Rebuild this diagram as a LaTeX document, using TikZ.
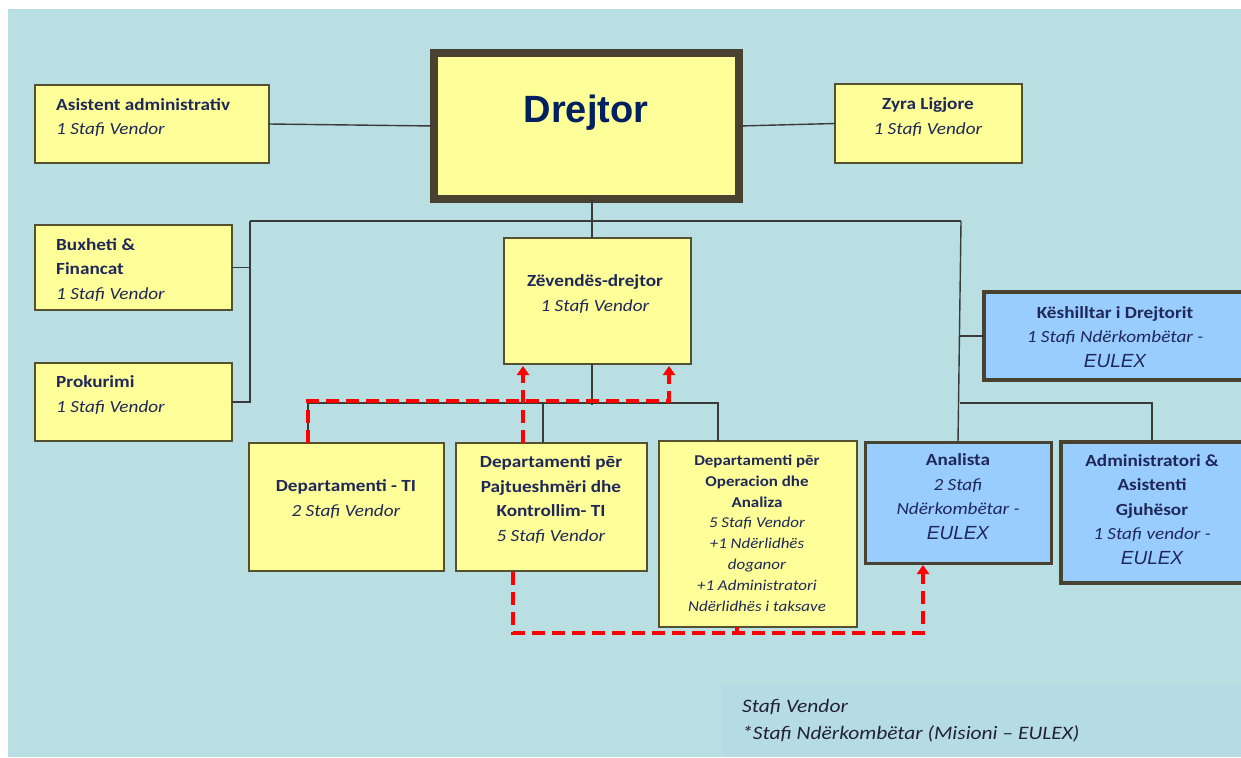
\documentclass[tikz,border=0pt]{standalone}
\usepackage{fontspec}
\setmainfont{Carlito}[FakeStretch=1.13]
\newfontfamily\arialf{Liberation Sans}
\usetikzlibrary{arrows.meta}
\definecolor{bgc}{HTML}{BADFE2}
\definecolor{legc}{HTML}{B5DBE5}
\definecolor{yfill}{HTML}{FFFF99}
\definecolor{bfill}{HTML}{99CCFF}
\definecolor{ybord}{HTML}{55502F}
\definecolor{tbord}{HTML}{4A4230}
\definecolor{navyc}{HTML}{1F2858}
\definecolor{drejc}{HTML}{002060}
\definecolor{connc}{HTML}{3A3A3A}
\definecolor{legt}{HTML}{222233}
\newcommand{\eulx}{{\arialf\itshape\fontsize{19}{24}\selectfont EULEX}}
\tikzset{
  ybox/.style={draw=ybord, line width=2pt, fill=yfill, inner sep=0pt, outer sep=0pt, anchor=north west},
  bbox/.style={draw=tbord, line width=4pt, fill=bfill, inner sep=0pt, outer sep=0pt, anchor=north west},
  conn/.style={draw=connc, line width=1.4pt},
  rdash/.style={draw=red, line width=3.4pt, dash pattern=on 13pt off 7pt},
  lbl/.style={text=navyc, align=center, inner sep=0pt, anchor=base, font=\fontsize{17}{24.4}\selectfont},
  slbl/.style={text=navyc, align=center, inner sep=0pt, anchor=base, font=\fontsize{15}{20.8}\selectfont},
  leg/.style={text=legt, inner sep=0pt, anchor=base west, font=\itshape\fontsize{19}{24}\selectfont},
  tip/.style={-{Triangle[width=12pt,length=9pt]}},
}
\begin{document}
\begin{tikzpicture}[x=1pt,y=-1pt]
\useasboundingbox (0,0) rectangle (1241,757);
\clip (0,0) rectangle (1241,757);
\fill[white] (0,0) rectangle (1241,757);
\fill[bgc] (8,9) rectangle (1241,757);
\fill[legc] (722,684) rectangle (1241,757);

% boxes
\node[draw=tbord, line width=8pt, fill=yfill, inner sep=0pt, outer sep=0pt, anchor=north west,
      minimum width=305pt, minimum height=146pt] (drej) at (434,53) {};
\node[ybox, minimum width=234pt, minimum height=78pt] (asist) at (35,85) {};
\node[ybox, minimum width=187pt, minimum height=79pt] (zyra) at (835,84) {};
\node[ybox, minimum width=197pt, minimum height=85pt] (bux) at (35,225) {};
\node[ybox, minimum width=197pt, minimum height=78pt] (prok) at (35,363) {};
\node[ybox, minimum width=187pt, minimum height=126pt] (zev) at (504,238) {};
\node[bbox, minimum width=270pt, minimum height=88pt] (kesh) at (984,292) {};
\node[ybox, minimum width=195pt, minimum height=128pt] (ti) at (249,443) {};
\node[ybox, minimum width=191pt, minimum height=128pt] (pajt) at (456,443) {};
\node[ybox, minimum width=198pt, minimum height=186pt] (oper) at (659,441) {};
\node[bbox, line width=3pt, minimum width=186pt, minimum height=121pt] (anal) at (865,442) {};
\node[bbox, minimum width=190pt, minimum height=141pt] (admin) at (1061,442) {};

% texts (anchored at the baseline of their last line)
\node[text=drejc, inner sep=0pt, anchor=base, font=\arialf\bfseries\fontsize{38}{40}\selectfont] (tdrej) at (586,122) {Drejtor};
\node[lbl, anchor=base west, align=left] (tasist) at (56,135) {\textbf{Asistent administrativ}\\\textit{1 Stafi Vendor}};
\node[lbl] (tzyra) at (928,134) {\textbf{Zyra Ligjore}\\\textit{1 Stafi Vendor}};
\node[lbl, anchor=base west, align=left] (tbux) at (56,299) {\textbf{Buxheti \&}\\\textbf{Financat}\\\textit{1 Stafi Vendor}};
\node[lbl, anchor=base west, align=left] (tprok) at (56,412) {\textbf{Prokurimi}\\\textit{1 Stafi Vendor}};
\node[lbl] (tzev) at (595,311) {\textbf{Zëvendës-drejtor}\\\textit{1 Stafi Vendor}};
\node[lbl] (tkesh) at (1115,367) {\textbf{Këshilltar i Drejtorit}\\\textit{1 Stafi Ndërkombëtar\ -}\\\eulx};
\node[lbl] (tti) at (346,516) {\textbf{Departamenti - TI}\\\textit{2 Stafi Vendor}};
\node[lbl] (tpajt) at (551,541) {\textbf{Departamenti pēr}\\\textbf{Pajtueshmëri dhe}\\\textbf{Kontrollim- TI}\\\textit{5 Stafi Vendor}};
\node[slbl] (toper) at (757,611) {\textbf{Departamenti pēr}\\\textbf{Operacion dhe}\\\textbf{Analiza}\\\textit{5 Stafi Vendor}\\\textit{+1 Ndërlidhës}\\\textit{doganor}\\\textit{+1 Administratori}\\\textit{Ndërlidhës i taksave}};
\node[lbl] (tanal) at (958,539) {\textbf{Analista}\\\textit{2 Stafi}\\\textit{Ndërkombëtar -}\\\eulx};
\node[lbl] (tadmin) at (1152,564) {\textbf{Administratori \&}\\\textbf{Asistenti}\\\textbf{Gjuhësor}\\\textit{1 Stafi vendor -}\\\eulx};
\node[leg] (lg1) at (742,712) {Stafi Vendor};
\node[leg] (lg2) at (742,739) {*Stafi Ndërkombëtar (Misioni – EULEX)};

% black connectors
\coordinate (jd) at (592,221);
\coordinate (jl) at (250,221);
\coordinate (jr) at (961,221);
\coordinate (jb) at (592,405);
\coordinate (tl) at (308,403);
\coordinate (tm) at (543,403);
\coordinate (tr) at (718,403);
\coordinate (ar) at (960,403);
\coordinate (kr) at (960,336);
\draw[conn] (asist.east) -- (drej.west);
\draw[conn] (drej.east) -- (zyra.west);
\draw[conn] (jd |- drej.south) -- (jd |- zev.north);
\draw[conn] (jl) -- (jr);
\draw[conn] (jl) |- (prok.east);
\draw[conn] (jl |- bux.east) -- (bux.east);
\draw[conn] (jr) -- (anal.north);
\draw[conn] (kr) -- (kesh.west);
\draw[conn] (ar) -- (ar -| tadmin.north) -- (tadmin.north |- admin.north);
\draw[conn] (jd |- zev.south) -- (jb);
\draw[conn] (tl |- ti.north) -- (tl) -- (tr) -- (tr |- oper.north);
\draw[conn] (tm) -- (tm |- pajt.north);

% red dashed
\coordinate (rA) at (308,401);
\coordinate (rB) at (669,401);
\coordinate (rC) at (523,401);
\coordinate (rD) at (513,633);
\coordinate (rE) at (923,633);
\coordinate (rF) at (737,633);
\draw[rdash, tip] (rA |- ti.north) -- (rA) -- (rB) -- ([yshift=-2pt]rB |- zev.south);
\draw[rdash, tip] (rC |- pajt.north) -- ([yshift=-2pt]rC |- zev.south);
\draw[rdash, tip] ([yshift=-1pt]rD |- pajt.south) -- (rD) -- (rE) -- ([yshift=-2pt]rE |- anal.south);
\draw[rdash] (rF |- oper.south) -- (rF);
\end{tikzpicture}
\end{document}
